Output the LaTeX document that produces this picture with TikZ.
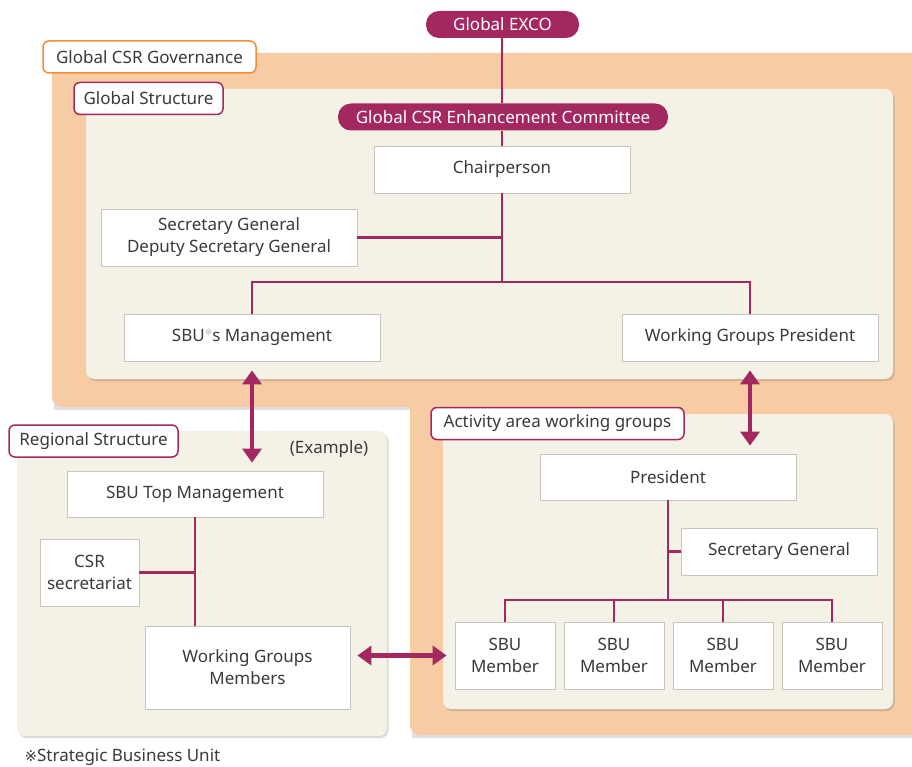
\documentclass[tikz,border=0pt]{standalone}
\usepackage{fontspec}
\setmainfont{Noto Sans}
\newfontfamily\symfont{DejaVu Sans}
\usetikzlibrary{arrows.meta,shadows}
\definecolor{maroon}{HTML}{A3285F}
\definecolor{orangefill}{HTML}{F7CBA3}
\definecolor{orangeline}{HTML}{F28C38}
\definecolor{cream}{HTML}{F4F1E6}
\definecolor{boxline}{HTML}{C9C5BD}
\definecolor{txt}{HTML}{3A3A3A}
\tikzset{
  every node/.style={font=\fontsize{17}{22}\selectfont, text=txt},
  orgbox/.style={draw=boxline, line width=0.8pt, fill=white, inner sep=0pt, align=center},
  pill/.style={fill=maroon, rounded corners=13pt, inner sep=0pt, minimum height=27pt, text=white},
  tag/.style={draw=maroon, line width=1.5pt, fill=white, rounded corners=6pt, inner sep=0pt, minimum height=32pt},
  panel/.style={fill=cream, rounded corners=8pt, drop shadow={shadow xshift=1.5pt, shadow yshift=-2pt, opacity=0.25, fill=black!60}},
  conn/.style={draw=maroon, line width=2.8pt},
  dblarrow/.style={draw=maroon, line width=4.5pt, {Triangle[width=19pt,length=14pt]}-{Triangle[width=19pt,length=14pt]}}
}
\begin{document}
\begin{tikzpicture}[x=1pt,y=-1pt]
\useasboundingbox (0,0) rectangle (912,767);
% orange governance area
\fill[black!12] (54,56) rectangle (912,410);
\fill[black!12] (412,56) rectangle (912,738);
\fill[orangefill, rounded corners=10pt] (52,53) rectangle (930,407);
\fill[orangefill, rounded corners=10pt] (410,53) rectangle (930,735);
\fill[orangefill] (420,300) rectangle (930,420);
% panels
\path[panel] (86,89) rectangle (893,379);
\path[panel] (17,431) rectangle (387,736);
\path[panel] (443,414) rectangle (893,709);
% tags
\node[tag, draw=orangeline, minimum width=213pt] (gov) at (149.5,57) {Global CSR Governance};
\node[tag, minimum width=149pt] (gstruct) at (148.5,98.5) {Global Structure};
\node[tag, minimum width=169pt] (rstruct) at (93.5,441) {Regional Structure};
\node[tag, minimum width=253pt] (actwg) at (557.5,423.5) {Activity area working groups};
\node (example) at (329,449) {(Example)};
% pills
\node[pill, minimum width=153pt] (exco) at (502.5,24.5) {Global EXCO};
\node[pill, minimum width=330pt] (comm) at (503,117) {Global CSR Enhancement Committee};
% global structure boxes
\node[orgbox, minimum width=256pt, minimum height=47pt] (chair) at (502,169.5) {Chairperson};
\node[orgbox, minimum width=256pt, minimum height=57pt] (secg) at (229,237.5) {Secretary General\\Deputy Secretary General};
\node[orgbox, minimum width=256pt, minimum height=47pt] (sbum) at (252,337.5) {SBU{\symfont\fontsize{9}{9}\selectfont\raisebox{6pt}{\textcolor{black!30}{※}}}s Management};
\node[orgbox, minimum width=256pt, minimum height=47pt] (wgp) at (750,337.5) {Working Groups President};
% regional boxes
\node[orgbox, minimum width=256pt, minimum height=46pt] (topm) at (195,494) {SBU Top Management};
\node[orgbox, minimum width=99pt, minimum height=67pt] (csr) at (89.5,572.5) {CSR\\secretariat};
\node[orgbox, minimum width=205pt, minimum height=83pt] (wgm) at (247.5,667.5) {Working Groups\\Members};
% activity boxes
\node[orgbox, minimum width=256pt, minimum height=46pt] (pres) at (668,477) {President};
\node[orgbox, minimum width=196pt, minimum height=47pt] (secg2) at (779,551.5) {Secretary General};
\node[orgbox, minimum width=100pt, minimum height=67pt] (m1) at (505,655.5) {SBU\\Member};
\node[orgbox, minimum width=100pt, minimum height=67pt] (m2) at (614,655.5) {SBU\\Member};
\node[orgbox, minimum width=100pt, minimum height=67pt] (m3) at (723,655.5) {SBU\\Member};
\node[orgbox, minimum width=100pt, minimum height=67pt] (m4) at (832,655.5) {SBU\\Member};
% footnote
\node[anchor=west] (foot) at (21,757) {{\symfont\fontsize{15}{17}\selectfont ※}Strategic Business Unit};
% connectors global
\draw[conn] (exco.south -| chair.north) -- (comm.north -| chair.north);
\draw[conn] (comm.south -| chair.north) -- (chair.north);
\coordinate (bus1) at (501,282);
\draw[conn] (chair.south) -- (chair.south |- bus1);
\draw[conn] (secg.east) -- (secg.east -| chair.south);
\draw[conn] (sbum.north) -- (sbum.north |- bus1) -| (wgp.north);
% regional connectors
\draw[conn] (topm.south) -- (topm.south |- wgm.north);
\draw[conn] (csr.east) -- (csr.east -| topm.south);
% activity connectors
\coordinate (bus2) at (668,600);
\draw[conn] (pres.south) -- (pres.south |- bus2);
\draw[conn] (secg2.west) -- (secg2.west -| pres.south);
\draw[conn] (m1.north) -- (m1.north |- bus2) -| (m4.north);
\draw[conn] (m2.north) -- (m2.north |- bus2);
\draw[conn] (m3.north) -- (m3.north |- bus2);
% double arrows
\draw[dblarrow] ([yshift=-9pt]sbum.south) -- ([yshift=8pt]sbum.south |- topm.north);
\draw[dblarrow] ([yshift=-9pt]wgp.south) -- ([yshift=8pt]wgp.south |- pres.north);
\draw[dblarrow] ([xshift=7pt]wgm.east |- m1.west) -- ([xshift=-8pt]m1.west);
\end{tikzpicture}
\end{document}
